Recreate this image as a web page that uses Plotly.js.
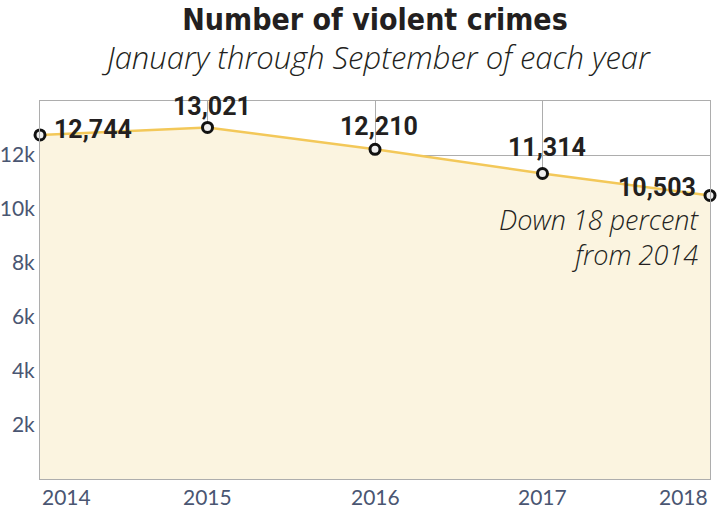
<!DOCTYPE html>
<html><head><meta charset="utf-8">
<script src="https://cdn.plot.ly/plotly-3.0.1.min.js"></script>
<style>body{margin:0;background:#fff}#c{width:717px;height:509px}</style>
</head><body><div id="c"></div>
<script>
const years = [2014, 2015, 2016, 2017, 2018];
const crimes = [12744, 13021, 12210, 11314, 10503];
const valueLabels = ["12,744", "13,021", "12,210", "11,314", "10,503"];
const yTicks = [2000, 4000, 6000, 8000, 10000, 12000];
const yTickText = ["2k", "4k", "6k", "8k", "10k", "12k"];
const noteText = "Down 18 percent<br>from 2014";

// label placement style per point
const lab = [
  {xanchor:'left', yanchor:'middle', xshift:12, yshift:5},
  {xanchor:'center', yanchor:'middle', xshift:4, yshift:21},
  {xanchor:'center', yanchor:'middle', xshift:4, yshift:23},
  {xanchor:'center', yanchor:'middle', xshift:4, yshift:26},
  {xanchor:'right', yanchor:'middle', xshift:-12, yshift:8}
];

const annotations = years.map((yr, i) => Object.assign({
  x: yr, y: crimes[i], xref:'x', yref:'y', text: valueLabels[i], showarrow:false,
  font:{family:'Roboto, sans-serif', size:25, color:'#231f20', weight:700}
}, lab[i]));

// x tick labels (ends aligned inside plot)
years.forEach((yr, i) => {
  annotations.push({
    x: yr, y: 0, xref:'x', yref:'paper', text: String(yr), showarrow:false,
    yanchor:'top', yshift:-3,
    xanchor: i === 0 ? 'left' : (i === years.length - 1 ? 'right' : 'center'),
    font:{family:'Lato, sans-serif', size:21, color:'#4a5672', weight:400}
  });
});

annotations.push({
  x: years[years.length-1], y: 10000, xref:'x', yref:'y', text: noteText, showarrow:false,
  xanchor:'right', yanchor:'top', xshift:-9, yshift:10, align:'right',
  font:{family:'Open Sans, sans-serif', size:27, color:'#231f20', style:'italic', weight:300}
});

annotations.push({
  x: 0.5, y: (479-57)/378, xref:'paper', yref:'paper', text:'January through September of each year',
  showarrow:false, xanchor:'center', yanchor:'middle', xshift:1,
  font:{family:'Open Sans, sans-serif', size:31, color:'#231f20', style:'italic', weight:300}
});

const trace = {
  x: years, y: crimes, type:'scatter', mode:'lines+markers',
  fill:'tozeroy', fillcolor:'#fbf4e0',
  line:{color:'#f3c859', width:2.5},
  marker:{size:10, color:'#eeeeee', line:{color:'#111', width:3}},
  cliponaxis:false, hoverinfo:'none'
};

const layout = {
  width:717, height:509,
  margin:{l:40, r:7, t:101, b:30},
  paper_bgcolor:'#fff', plot_bgcolor:'#fff',
  showlegend:false,
  title:{text:'<b>Number of violent crimes</b>', x:0.5, xref:'paper', xanchor:'center', y:1-19/509, yref:'container', yanchor:'middle',
    font:{family:'DejaVu Sans Condensed, sans-serif', size:30, color:'#231f20'}},
  xaxis:{range:[2014, 2018], tickvals:years, showticklabels:false, ticks:'',
    showgrid:true, gridcolor:'#adadad', gridwidth:1, showline:true, linecolor:'#adadad', linewidth:1, mirror:true, zeroline:false},
  yaxis:{range:[0, 14000], tickvals:yTicks, ticktext:yTickText, ticks:'',
    tickfont:{family:'Lato, sans-serif', size:21, color:'#4a5672'},
    showgrid:true, gridcolor:'#adadad', gridwidth:1, showline:true, linecolor:'#adadad', linewidth:1, mirror:true, zeroline:false},
  annotations: annotations
};

Plotly.newPlot('c', [trace], layout, {displayModeBar:false, staticPlot:true});
</script>
</body></html>
